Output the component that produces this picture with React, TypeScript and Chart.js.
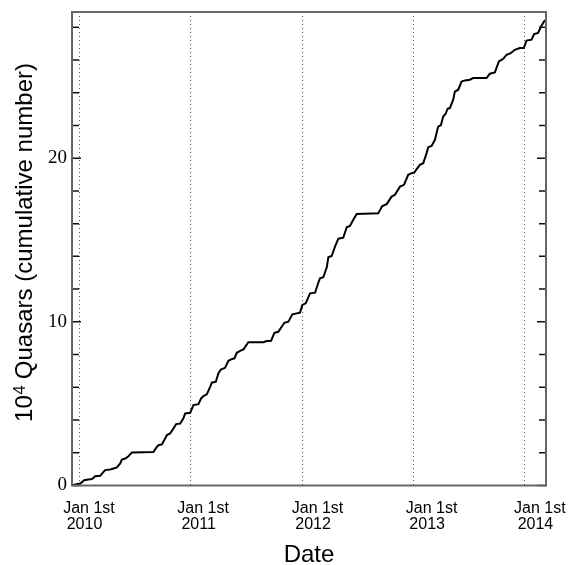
import { useEffect, useRef } from 'react'
import { Chart, registerables } from 'chart.js'

Chart.register(...registerables)

// decimal years and cumulative quasar counts (units of 10^4)
const dates = [
  2009.935, 2009.964, 2010.009, 2010.045, 2010.083, 2010.114, 2010.143, 2010.188, 2010.218, 2010.233,
  2010.278, 2010.308, 2010.338, 2010.368, 2010.383, 2010.413, 2010.442, 2010.473, 2010.666, 2010.697,
  2010.711, 2010.742, 2010.771, 2010.787, 2010.816, 2010.846, 2010.87, 2010.906, 2010.935, 2010.951,
  2010.996, 2011.025, 2011.07, 2011.094, 2011.115, 2011.145, 2011.175, 2011.19, 2011.226, 2011.249,
  2011.271, 2011.309, 2011.339, 2011.363, 2011.393, 2011.414, 2011.444, 2011.474, 2011.518, 2011.653,
  2011.683, 2011.722, 2011.752, 2011.787, 2011.841, 2011.877, 2011.913, 2011.982, 2012.003, 2012.033,
  2012.072, 2012.117, 2012.146, 2012.161, 2012.191, 2012.222, 2012.236, 2012.266, 2012.296, 2012.326,
  2012.37, 2012.401, 2012.43, 2012.46, 2012.491, 2012.684, 2012.72, 2012.76, 2012.804, 2012.834,
  2012.879, 2012.915, 2012.953, 2012.984, 2013.007, 2013.029, 2013.058, 2013.088, 2013.118, 2013.133,
  2013.163, 2013.193, 2013.222, 2013.247, 2013.267, 2013.289, 2013.307, 2013.327, 2013.357, 2013.372,
  2013.402, 2013.432, 2013.462, 2013.507, 2013.536, 2013.656, 2013.686, 2013.731, 2013.767, 2013.805,
  2013.836, 2013.874, 2013.91, 2013.955, 2013.991, 2014.015, 2014.06, 2014.083, 2014.119, 2014.143,
  2014.173, 2014.19
]
const quasars = [
  0, 0.06, 0.12, 0.32, 0.37, 0.39, 0.57, 0.59, 0.83, 0.94,
  0.98, 1.04, 1.1, 1.35, 1.59, 1.65, 1.79, 2.02, 2.04, 2.36,
  2.46, 2.51, 2.87, 3.08, 3.18, 3.49, 3.75, 3.79, 4.1, 4.4,
  4.44, 4.91, 4.97, 5.32, 5.46, 5.57, 6.03, 6.28, 6.34, 6.85,
  7.09, 7.19, 7.62, 7.71, 7.77, 8.11, 8.23, 8.32, 8.75, 8.75,
  8.83, 8.84, 9.33, 9.39, 9.94, 10.01, 10.46, 10.56, 11.03, 11.13,
  11.74, 11.78, 12.39, 12.66, 12.72, 13.33, 13.94, 14.02, 14.59, 15.08,
  15.14, 15.78, 15.86, 16.23, 16.59, 16.64, 17.08, 17.19, 17.65, 17.76,
  18.26, 18.37, 18.98, 19.08, 19.12, 19.33, 19.59, 19.69, 20.31, 20.67,
  20.75, 21.12, 21.93, 22.02, 22.54, 22.71, 23.02, 23.06, 23.57, 24.07,
  24.18, 24.68, 24.75, 24.79, 24.89, 24.89, 25.16, 25.24, 25.91, 26.06,
  26.32, 26.42, 26.62, 26.73, 26.73, 27.18, 27.24, 27.58, 27.65, 28.01,
  28.36, 28.46
]

const years = [2010, 2011, 2012, 2013, 2014]
// where the "Jan 1st / year" labels sit (slightly right of the year lines)
const labelDates = [2010.087, 2011.112, 2012.139, 2013.163, 2014.135]
const yLabels = [0, 10, 20]
const yMinorTicks = [0, 2, 4, 6, 8, 10, 12, 14, 16, 18, 20, 22, 24, 26, 28]

const SANS = '"Liberation Sans", Arial, Helvetica, sans-serif'
const SERIF = '"Liberation Serif", "Times New Roman", serif'

const framePlugin = {
  id: 'frame',
  afterDatasetsDraw(chart: Chart) {
    const { ctx, chartArea: a, scales } = chart
    const y = scales.y
    ctx.save()
    // inward ticks on left and right
    ctx.strokeStyle = '#111'
    ctx.lineWidth = 1.5
    yMinorTicks.forEach((v) => {
      const py = y.getPixelForValue(v)
      const len = v % 10 === 0 ? 9 : 7
      ctx.beginPath()
      ctx.moveTo(a.left, py)
      ctx.lineTo(a.left + len, py)
      ctx.moveTo(a.right, py)
      ctx.lineTo(a.right - len, py)
      ctx.stroke()
    })
    // frame
    ctx.strokeStyle = '#666'
    ctx.lineWidth = 2
    ctx.strokeRect(a.left, a.top, a.right - a.left, a.bottom - a.top)
    ctx.restore()
  },
  afterDraw(chart: Chart) {
    const { ctx, chartArea: a } = chart
    ctx.save()
    ctx.fillStyle = '#000'
    ctx.textBaseline = 'alphabetic'
    // x title
    ctx.font = '24px ' + SANS
    ctx.textAlign = 'center'
    ctx.fillText('Date', (a.left + a.right) / 2, 562)
    // y title with superscript
    const big = '24px ' + SANS
    const small = '17px ' + SANS
    ctx.font = big
    const w1 = ctx.measureText('10').width
    const w3 = ctx.measureText(' Quasars (cumulative number)').width
    ctx.font = small
    const w2 = ctx.measureText('4').width
    const total = w1 + w2 + w3
    ctx.translate(31.5, 242.5)
    ctx.rotate(-Math.PI / 2)
    ctx.textAlign = 'left'
    let x = -total / 2
    ctx.font = big
    ctx.fillText('10', x, 0)
    x += w1
    ctx.font = small
    ctx.fillText('4', x + 0.5, -7)
    x += w2
    ctx.font = big
    ctx.fillText(' Quasars (cumulative number)', x, 0)
    ctx.restore()
  }
}

function QuasarChart() {
  const chartRef = useRef<HTMLCanvasElement>(null)
  const chartInstance = useRef<Chart | null>(null)

  useEffect(() => {
    if (!chartRef.current) return
    if (chartInstance.current) chartInstance.current.destroy()
    const ctx = chartRef.current.getContext('2d')
    if (!ctx) return

    const xMin = 2009.935
    const xMax = 2014.19

    chartInstance.current = new Chart(ctx, {
      type: 'line',
      data: {
        datasets: [
          {
            label: 'Quasars',
            data: dates.map((d, i) => ({ x: d, y: quasars[i] })),
            xAxisID: 'x',
            yAxisID: 'y',
            borderColor: '#000',
            borderWidth: 2,
            pointRadius: 0,
            tension: 0,
            fill: false
          }
        ]
      },
      options: {
        animation: false,
        responsive: false,
        events: [],
        layout: { padding: { left: 0, right: 24, top: 12, bottom: 0 } },
        plugins: {
          legend: { display: false },
          tooltip: { enabled: false },
          title: { display: false }
        },
        scales: {
          x: {
            type: 'linear',
            position: 'bottom',
            min: xMin,
            max: xMax,
            afterBuildTicks: (scale: any) => {
              scale.ticks = years.map((v) => ({ value: v }))
            },
            afterFit: (scale: any) => {
              scale.height = 0
              scale.paddingLeft = 0
              scale.paddingRight = 0
            },
            ticks: { display: false },
            grid: {
              display: true,
              drawOnChartArea: true,
              drawTicks: false,
              color: '#555',
              lineWidth: 1
            },
            border: { display: false, dash: [1, 3] }
          },
          xl: {
            type: 'linear',
            position: 'bottom',
            min: xMin,
            max: xMax,
            afterBuildTicks: (scale: any) => {
              scale.ticks = labelDates.map((v) => ({ value: v }))
            },
            afterFit: (scale: any) => {
              scale.height = 79.5
              scale.paddingLeft = 0
              scale.paddingRight = 0
            },
            ticks: {
              autoSkip: false,
              maxRotation: 0,
              padding: 15,
              color: '#000',
              font: { family: SANS, size: 16, lineHeight: 1.0 },
              callback: (_v: any, i: number) => ['Jan 1st', years[i] + '  ']
            },
            grid: { display: false, drawTicks: false },
            border: { display: false }
          },
          y: {
            type: 'linear',
            position: 'left',
            min: 0,
            max: 28.93,
            afterBuildTicks: (scale: any) => {
              scale.ticks = yLabels.map((v) => ({ value: v }))
            },
            afterFit: (scale: any) => {
              scale.width = 72
              scale.paddingTop = 0
              scale.paddingBottom = 0
            },
            ticks: {
              padding: 5,
              color: '#000',
              font: { family: SERIF, size: 19 }
            },
            grid: { display: false, drawTicks: false },
            border: { display: false }
          }
        }
      },
      plugins: [framePlugin]
    })

    return () => {
      if (chartInstance.current) {
        chartInstance.current.destroy()
        chartInstance.current = null
      }
    }
  }, [])

  return (
    <div style={{ position: 'absolute', left: 0, top: 0, width: 570, height: 565, background: '#fff' }}>
      <canvas ref={chartRef} width={570} height={565} style={{ width: 570, height: 565 }} />
    </div>
  )
}

export default function App() {
  return <QuasarChart />
}
